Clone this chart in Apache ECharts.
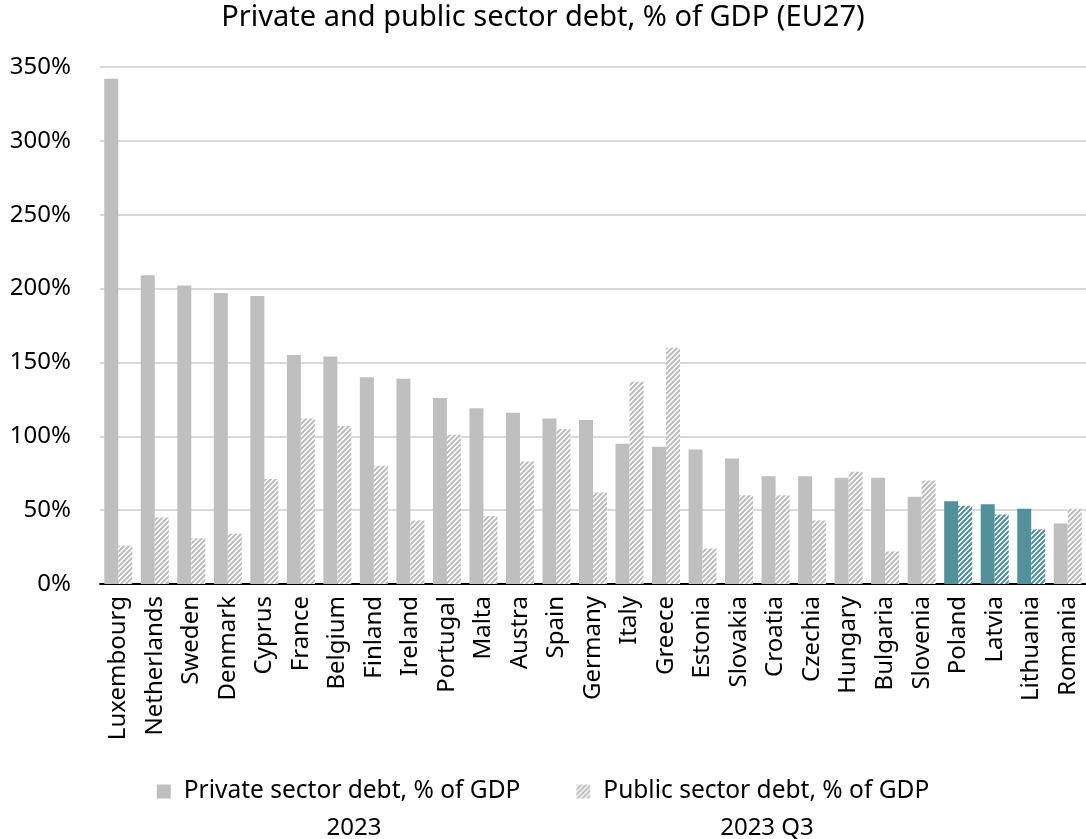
<!DOCTYPE html>
<html lang="en">
	<head>
		<meta charset="UTF-8" />
		<title>Private and public sector debt</title>
		<script src="https://cdn.jsdelivr.net/npm/echarts@6.0.0/dist/echarts.min.js"></script>
		<style>
			body { margin: 0; background: #fff; }
		</style>
	</head>
	<body>
		<div id="main" style="width: 1086px; height: 839px"></div>
		<script type="text/javascript">
			const countries = ["Luxembourg", "Netherlands", "Sweden", "Denmark", "Cyprus", "France", "Belgium", "Finland", "Ireland", "Portugal", "Malta", "Austra", "Spain", "Germany", "Italy", "Greece", "Estonia", "Slovakia", "Croatia", "Czechia", "Hungary", "Bulgaria", "Slovenia", "Poland", "Latvia", "Lithuania", "Romania"];
			const privateDebt = [342, 209, 202, 197, 195, 155, 154, 140, 139, 126, 119, 116, 112, 111, 95, 93, 91, 85, 73, 73, 72, 72, 59, 56, 54, 51, 41];
			const publicDebt = [26, 45, 31, 34, 71, 112, 107, 80, 43, 101, 46, 83, 105, 62, 137, 160, 24, 60, 60, 43, 76, 22, 70, 53, 47, 37, 51];
			const highlighted = ["Poland", "Latvia", "Lithuania"];
			const seriesNames = ["Private sector debt, % of GDP", "Public sector debt, % of GDP"];
			const seriesPeriods = ["2023", "2023 Q3"];

			const grey = "#bfbfbf";
			const teal = "#52909a";
			const font = "Noto Sans";

			// diagonal hatch fill
			function hatch(color) {
				const c = document.createElement("canvas");
				c.width = c.height = 5;
				const g = c.getContext("2d");
				g.fillStyle = "#fff";
				g.fillRect(0, 0, 5, 5);
				g.strokeStyle = color;
				g.lineWidth = 2.2;
				g.beginPath();
				g.moveTo(0, 5); g.lineTo(5, 0);
				g.moveTo(-1, 1); g.lineTo(1, -1);
				g.moveTo(4, 6); g.lineTo(6, 4);
				g.stroke();
				return { image: c, repeat: "repeat" };
			}

			const chart = echarts.init(document.getElementById("main"));
			chart.setOption({
				animation: false,
				textStyle: { fontFamily: font },
				title: [
					{ text: "Private and public sector debt, % of GDP (EU27)", left: "center", top: -2, textStyle: { fontFamily: font, fontWeight: "normal", fontSize: 29, color: "#000" } },
					{ text: seriesPeriods[0], left: 349, top: 811, textAlign: "center", textStyle: { fontFamily: font, fontWeight: "normal", fontSize: 24, color: "#000" } },
					{ text: seriesPeriods[1], left: 762, top: 811, textAlign: "center", textStyle: { fontFamily: font, fontWeight: "normal", fontSize: 24, color: "#000" } },
				],
				legend: {
					top: 774,
					left: "center",
					icon: "rect",
					itemWidth: 14,
					itemHeight: 14,
					itemGap: 56,
					textStyle: { fontFamily: font, fontSize: 24.5, color: "#000", padding: [0, 0, 0, 8] },
					data: seriesNames,
				},
				grid: { left: 100, right: 0, top: 67, bottom: 255 },
				xAxis: {
					type: "category",
					data: countries,
					axisLine: { lineStyle: { color: "#000", width: 2 } },
					axisTick: { show: false },
					axisLabel: { rotate: 90, interval: 0, fontFamily: font, fontSize: 24, color: "#000", margin: 12 },
				},
				yAxis: {
					type: "value",
					min: 0,
					max: 350,
					interval: 50,
					axisLine: { show: false },
					axisTick: { show: false },
					axisLabel: { formatter: "{value}%", fontFamily: font, fontSize: 24, color: "#000", margin: 29 },
					splitLine: { lineStyle: { color: "#d9d9d9", width: 2 } },
				},
				series: [
					{
						name: seriesNames[0],
						type: "bar",
						barWidth: 14,
						barGap: "0%",
						itemStyle: { color: grey },
						data: privateDebt.map((v, i) => ({
							value: v,
							itemStyle: { color: highlighted.includes(countries[i]) ? teal : grey },
						})),
					},
					{
						name: seriesNames[1],
						type: "bar",
						barWidth: 14,
						barGap: "0%",
						itemStyle: { color: hatch(grey) },
						data: publicDebt.map((v, i) => ({
							value: v,
							itemStyle: { color: highlighted.includes(countries[i]) ? hatch(teal) : hatch(grey) },
						})),
					},
				],
			});
		</script>
	</body>
</html>
